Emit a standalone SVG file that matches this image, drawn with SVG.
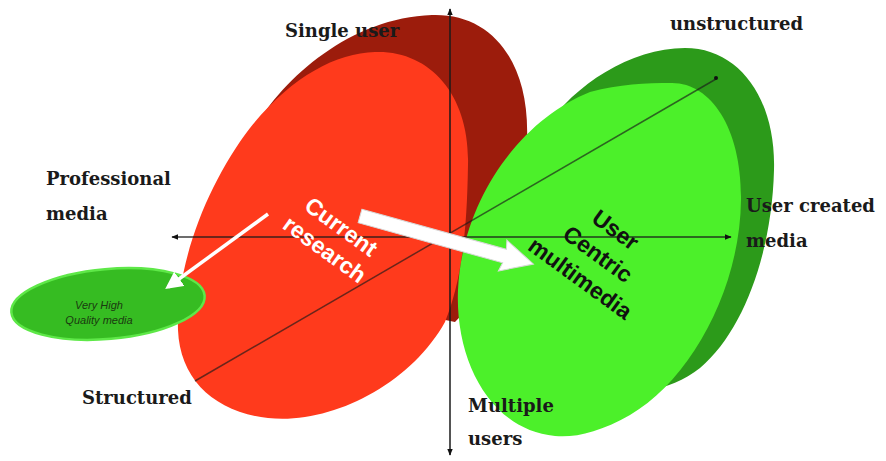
<svg xmlns="http://www.w3.org/2000/svg" width="886" height="461" viewBox="0 0 886 461">
<defs>
<marker id="ah" viewBox="0 0 10 10" refX="9" refY="5" markerWidth="7" markerHeight="7" orient="auto-start-reverse" markerUnits="userSpaceOnUse">
<path d="M0,1 L10,5 L0,9 z" fill="#111"/>
</marker>
<marker id="wh" viewBox="0 0 10 10" refX="8" refY="5" markerWidth="5" markerHeight="5" orient="auto">
<path d="M0,0 L10,5 L0,10 z" fill="#fff"/>
</marker>
<style>
.lbl{font-family:"DejaVu Serif","Liberation Serif",serif;font-weight:bold;font-size:18px;fill:#1a1a1a}
.in{font-family:"Liberation Sans",Arial,sans-serif;font-weight:bold;font-size:23px;text-anchor:middle}
.ax{stroke:#1a1a1a;stroke-width:1.5;fill:none}
</style>
</defs>
<rect width="886" height="461" fill="#fff"/>
<g id="red-back"><path d="M244,150 C265,95 340,18 432,15 C492,13 530,62 527,140 C524,215 492,285 455,322 L350,300 Z" fill="#9c1c0c"/></g>
<g id="red-front"><path d="M375,52 C430,50 470,95 468,165 C467,230 462,280 445,322 C410,385 330,425 268,418 C215,412 180,380 178,330 C176,260 210,180 250,128 C290,78 335,53 375,52 Z" fill="#ff3a1c"/></g>
<g id="green-back"><path d="M545,128 C575,85 630,48 685,48 C740,48 776,100 774,170 C772,250 745,330 700,368 C685,380 665,388 650,390 L600,300 Z" fill="#2c9a1a"/></g>
<g id="green-front"><path d="M672,83 C712,83 742,130 741,200 C740,290 690,380 630,415 C600,432 575,438 555,436 C490,430 455,360 458,290 C462,200 520,120 590,92 C620,84 645,83 672,83 Z" fill="#4cf02a"/></g>
<g id="quality-media">
<ellipse cx="108" cy="304" rx="97" ry="35" transform="rotate(-5 108 304)" fill="#36bc22" stroke="#5ee848" stroke-width="2.5"/>
<text x="99" y="309" font-family="Liberation Sans,Arial,sans-serif" font-style="italic" font-size="11" fill="#1a3a10" text-anchor="middle">Very High</text>
<text x="99" y="324" font-family="Liberation Sans,Arial,sans-serif" font-style="italic" font-size="11" fill="#1a3a10" text-anchor="middle">Quality media</text>
</g>
<g id="connectors">
<line class="ax" x1="450" y1="455" x2="450" y2="9" marker-start="url(#ah)" marker-end="url(#ah)"/>
<line class="ax" x1="172" y1="237" x2="731" y2="237" marker-start="url(#ah)" marker-end="url(#ah)" stroke-opacity="0.85"/>
<line class="ax" x1="195" y1="381" x2="716" y2="79" stroke-opacity="0.65"/>
<circle cx="716" cy="78" r="2" fill="#111"/>
<line x1="268" y1="214" x2="168" y2="287" stroke="#fff" stroke-width="3.5" marker-end="url(#wh)"/>
<g transform="translate(360,216) rotate(15.5)">
<path d="M0,-7 L150,-7 L148,-16 L180,0 L148,16 L150,7 L0,7 z" fill="#fff" stroke="#d8d8d8" stroke-width="1"/>
</g>
</g>
<g id="current-research" transform="translate(333,238) rotate(36)">
<text class="in" x="0" y="-6" fill="#fff">Current</text>
<text class="in" x="0" y="22" fill="#fff">research</text>
</g>
<g id="user-centric" transform="translate(598,254) rotate(36)">
<text class="in" x="0" y="-22" fill="#111">User</text>
<text class="in" x="0" y="8" fill="#111">Centric</text>
<text class="in" x="0" y="38" fill="#111">multimedia</text>
</g>
<g id="labels">
<text class="lbl" x="285" y="37">Single user</text>
<text class="lbl" x="670" y="30">unstructured</text>
<text class="lbl" x="46" y="185">Professional</text>
<text class="lbl" x="46" y="220">media</text>
<text class="lbl" x="746" y="212">User created</text>
<text class="lbl" x="746" y="247">media</text>
<text class="lbl" x="82" y="404">Structured</text>
<text class="lbl" x="468" y="412">Multiple</text>
<text class="lbl" x="468" y="445">users</text>
</g>
</svg>
